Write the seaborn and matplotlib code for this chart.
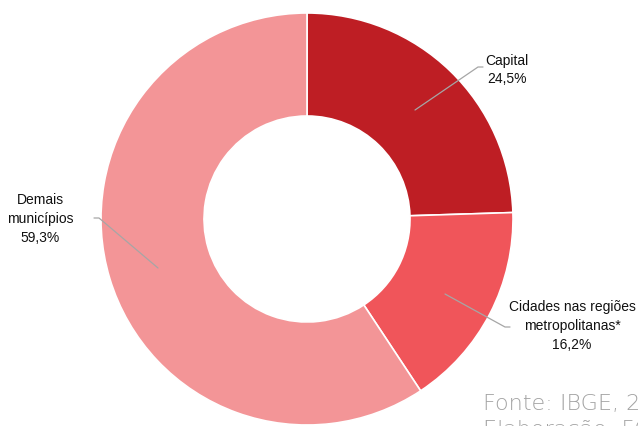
import matplotlib
matplotlib.use("Agg")
import matplotlib.pyplot as plt
import seaborn as sns

sns.set_theme(style="white")
plt.rcParams["font.family"] = ["Liberation Sans", "DejaVu Sans"]

# Distribution shares
categories = ["Capital", "Cidades nas regiões\nmetropolitanas*", "Demais\nmunicípios"]
shares = [24.5, 16.2, 59.3]
colors = ["#BE1E24", "#F0555A", "#F39597"]

W, H = 638, 426
fig = plt.figure(figsize=(W / 100, H / 100), dpi=100)
ax = fig.add_axes([0, 0, 1, 1])

cx, cy = 307, H - 219
R = 206
ax.pie(
    shares,
    colors=colors,
    startangle=90,
    counterclock=False,
    radius=R,
    center=(cx, cy),
    frame=True,
    wedgeprops=dict(width=103, edgecolor="white", linewidth=1.2),
)
ax.set_xlim(0, W)
ax.set_ylim(0, H)
ax.set_aspect("equal")
ax.axis("off")


def pct(v):
    return f"{v:.1f}".replace(".", ",") + "%"


label_kw = dict(fontsize=10, color="#111111", linespacing=1.45, ha="center", va="center")
line_kw = dict(color="#A6A6A6", linewidth=0.9)

# Capital
ax.plot([415, 478, 483], [H - 110, H - 67, H - 67], **line_kw)
ax.text(507, H - 70, f"{categories[0]}\n{pct(shares[0])}", **label_kw)
# Metropolitan cities
ax.plot([445, 505, 510], [H - 294, H - 327, H - 327], **line_kw)
ax.text(572, H - 326, f"{categories[1]}\n{pct(shares[1])}", **label_kw)
# Other municipalities
ax.plot([158, 99, 94], [H - 268, H - 218, H - 218], **line_kw)
ax.text(40, H - 219, f"{categories[2]}\n{pct(shares[2])}", **label_kw)

ax.text(483, H - 410, "Fonte: IBGE, 2021", ha="left", va="baseline",
        fontsize=16, color="#A3A3A3", family=["DejaVu Sans"], fontweight="light")
ax.text(483, H - 436, "Elaboração: FGV", ha="left", va="baseline",
        fontsize=16, color="#A3A3A3", family=["DejaVu Sans"], fontweight="light")

fig.savefig("out.png", dpi=100)
